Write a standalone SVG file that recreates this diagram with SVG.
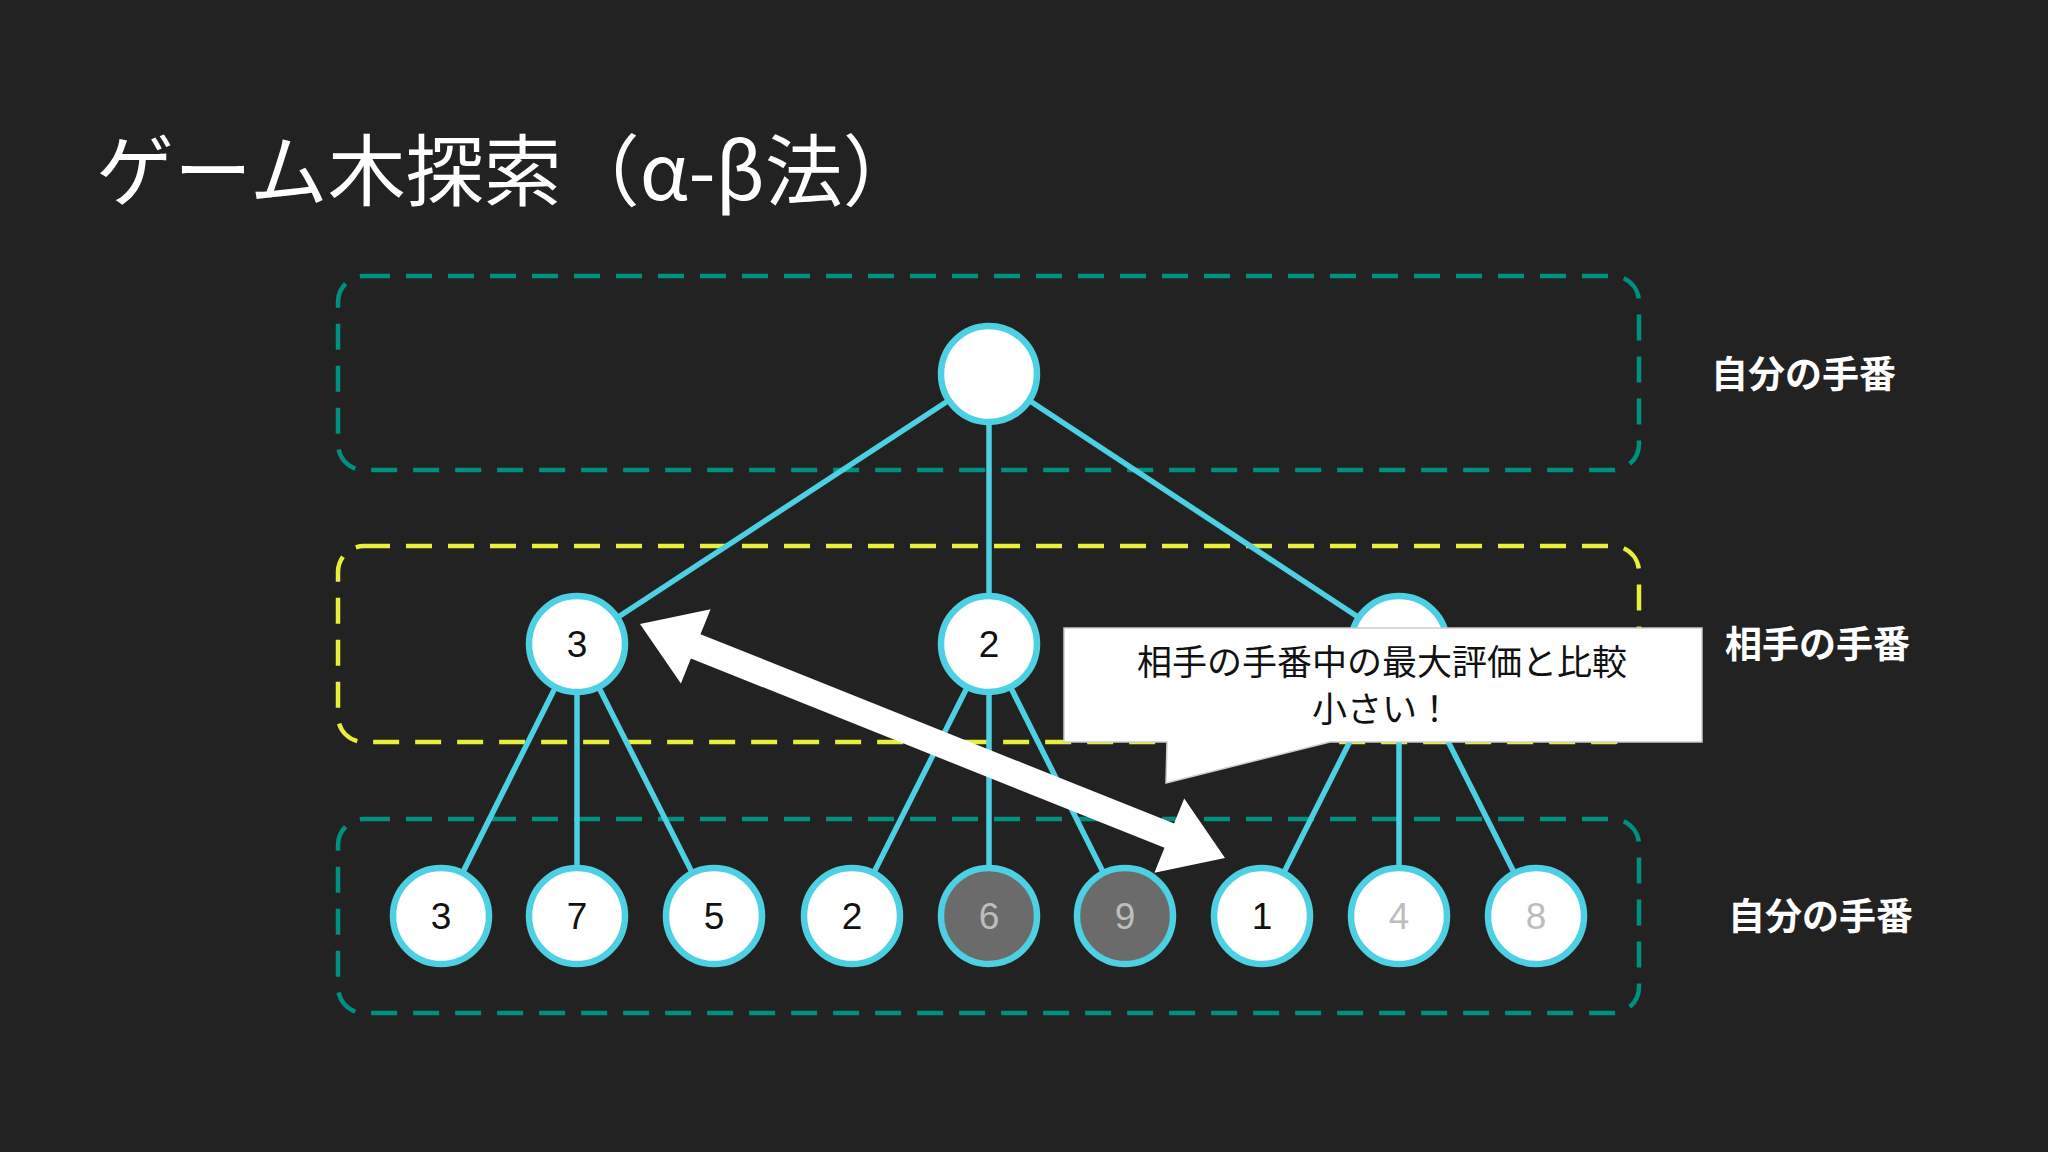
<svg xmlns="http://www.w3.org/2000/svg" width="2048" height="1152" viewBox="0 0 2048 1152">
<style>
.box{fill:none;stroke-width:4.5;stroke-dasharray:26 16}
.e{stroke:#4dd0e1;stroke-width:5.5}
.n{fill:#fff;stroke:#4dd0e1;stroke-width:6.5}
.g{fill:#6b6b6b;stroke:#4dd0e1;stroke-width:6.5}
.t{font-family:"Liberation Sans",Arial,sans-serif;font-size:37px;text-anchor:middle;fill:#111}
.tl{fill:#bdbdbd}
.lab{font-family:"Noto Sans CJK JP",sans-serif;font-size:37px;font-weight:bold;fill:#fff}
.cj{font-family:"Noto Sans CJK JP",sans-serif;font-size:35px;fill:#111;text-anchor:middle}
</style>
<rect width="2048" height="1152" fill="#222"/>
<text x="96" y="200" font-family="Noto Sans CJK JP,sans-serif" font-size="78" fill="#fff">ゲーム木探索（α-β法）</text>
<g id="levels">
<rect class="box" x="338" y="276" width="1301" height="194" rx="26" stroke="#009080"/>
<rect class="box" x="338" y="546" width="1301" height="196" rx="26" stroke="#e6f03c"/>
<rect class="box" x="338" y="819" width="1301" height="194" rx="26" stroke="#009080"/>
</g>
<g id="labels">
<text class="lab" x="1711" y="388">自分の手番</text>
<text class="lab" x="1725" y="658">相手の手番</text>
<text class="lab" x="1728" y="930">自分の手番</text>
</g>
<g id="connectors">
<line class="e" x1="989" y1="374" x2="577" y2="644"/>
<line class="e" x1="989" y1="374" x2="989" y2="644"/>
<line class="e" x1="989" y1="374" x2="1399" y2="644"/>
<line class="e" x1="577" y1="644" x2="441" y2="916"/>
<line class="e" x1="577" y1="644" x2="577" y2="916"/>
<line class="e" x1="577" y1="644" x2="714" y2="916"/>
<line class="e" x1="989" y1="644" x2="852" y2="916"/>
<line class="e" x1="989" y1="644" x2="989" y2="916"/>
<line class="e" x1="989" y1="644" x2="1125" y2="916"/>
<line class="e" x1="1399" y1="644" x2="1262" y2="916"/>
<line class="e" x1="1399" y1="644" x2="1399" y2="916"/>
<line class="e" x1="1399" y1="644" x2="1536" y2="916"/>
</g>
<g id="root"><circle class="n" cx="989" cy="374" r="48"/></g>
<g id="m1"><circle class="n" cx="577" cy="644" r="48"/><text class="t" x="577" y="657">3</text></g>
<g id="m2"><circle class="n" cx="989" cy="644" r="48"/><text class="t" x="989" y="657">2</text></g>
<g id="m3"><circle class="n" cx="1399" cy="644" r="48"/></g>
<g id="l1"><circle class="n" cx="441" cy="916" r="48"/><text class="t" x="441" y="929">3</text></g>
<g id="l2"><circle class="n" cx="577" cy="916" r="48"/><text class="t" x="577" y="929">7</text></g>
<g id="l3"><circle class="n" cx="714" cy="916" r="48"/><text class="t" x="714" y="929">5</text></g>
<g id="l4"><circle class="n" cx="852" cy="916" r="48"/><text class="t" x="852" y="929">2</text></g>
<g id="l5"><circle class="g" cx="989" cy="916" r="48"/><text class="t tl" x="989" y="929">6</text></g>
<g id="l6"><circle class="g" cx="1125" cy="916" r="48"/><text class="t tl" x="1125" y="929">9</text></g>
<g id="l7"><circle class="n" cx="1262" cy="916" r="48"/><text class="t" x="1262" y="929">1</text></g>
<g id="l8"><circle class="n" cx="1399" cy="916" r="48"/><text class="t tl" x="1399" y="929">4</text></g>
<g id="l9"><circle class="n" cx="1536" cy="916" r="48"/><text class="t tl" x="1536" y="929">8</text></g>
<g id="arrow">
<polygon fill="#fff" points="640,624 680.9,683.4 690.9,658.4 1164.5,847.8 1154.4,872.8 1225,858 1184.2,798.6 1174.1,823.6 700.5,634.2 710.6,609.2"/>
</g>
<g id="callout">
<polygon fill="#fff" stroke="#ccc" stroke-width="1.5" points="1064,628 1702,628 1702,742 1330,742 1166,783 1167,742 1064,742"/>
<text class="cj" x="1382" y="675">相手の手番中の最大評価と比較</text>
<text class="cj" x="1382" y="722">小さい！</text>
</g>
</svg>
